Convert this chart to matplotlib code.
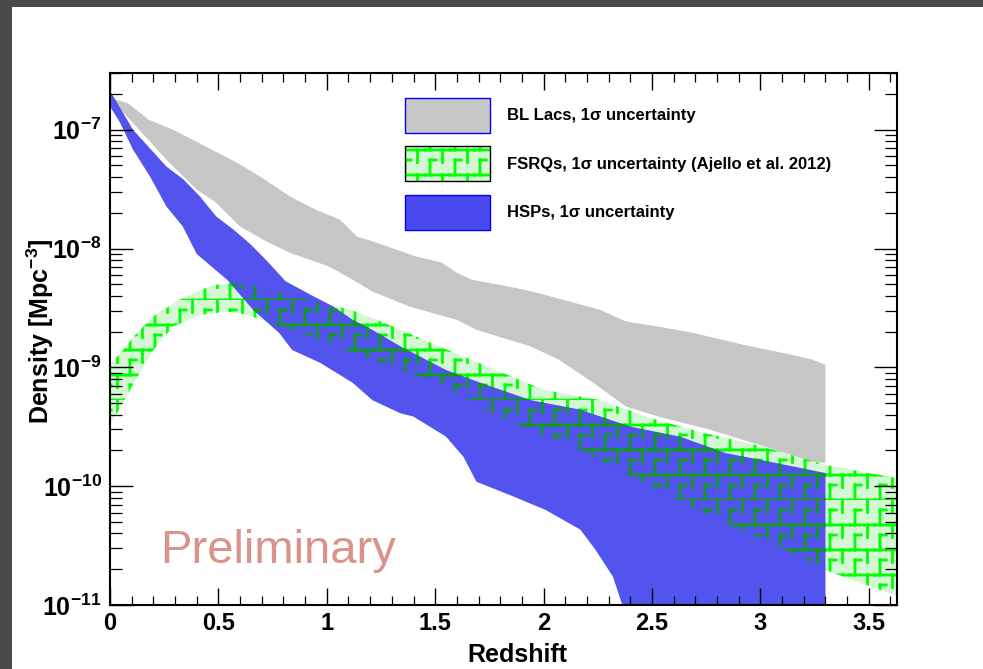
import warnings
import numpy as np
import matplotlib
matplotlib.use("Agg")
import matplotlib.pyplot as plt
import matplotlib.hatch as mhatch
from matplotlib.path import Path
from matplotlib.patches import Patch, Rectangle
from matplotlib.ticker import MultipleLocator, LogLocator, FuncFormatter, NullFormatter
from matplotlib.legend_handler import HandlerTuple

warnings.filterwarnings("ignore", message=".*hatch must consist.*")

# band edges (redshift, density in Mpc^-3)
bll_up_z = [0.02, 0.08, 0.18, 0.29, 0.35, 0.47, 0.60, 0.70, 0.77, 0.83, 0.95, 1.06, 1.14, 1.21,
            1.41, 1.53, 1.60, 1.67, 1.87, 1.97, 2.09, 2.26, 2.38, 2.53, 2.69, 2.92, 3.15, 3.24, 3.30]
bll_up = [1.8e-7, 1.68e-7, 1.21e-7, 1.0e-7, 8.8e-8, 6.8e-8, 5.1e-8, 3.95e-8, 3.25e-8, 2.74e-8,
          2.12e-8, 1.75e-8, 1.26e-8, 1.15e-8, 8.6e-9, 7.6e-9, 6.25e-9, 5.46e-9, 4.67e-9, 4.24e-9,
          3.7e-9, 3.05e-9, 2.43e-9, 2.2e-9, 1.95e-9, 1.55e-9, 1.27e-9, 1.16e-9, 1.05e-9]
bll_lo_z = [0.02, 0.05, 0.26, 0.40, 0.49, 0.60, 0.72, 0.83, 1.01, 1.12, 1.21, 1.38, 1.60, 1.69,
            1.94, 2.07, 2.23, 2.38, 2.53, 2.77, 2.92, 3.07, 3.23, 3.30]
bll_lo = [1.6e-7, 1.47e-7, 5.6e-8, 3.13e-8, 2.43e-8, 1.53e-8, 1.15e-8, 9.2e-9, 7.06e-9, 5.46e-9,
          4.35e-9, 3.25e-9, 2.51e-9, 2.07e-9, 1.5e-9, 1.16e-9, 7.4e-10, 4.68e-10, 3.85e-10,
          2.98e-10, 2.45e-10, 2.02e-10, 1.61e-10, 1.57e-10]

fsrq_up_z = [0.0, 0.05, 0.11, 0.20, 0.32, 0.42, 0.49, 0.57, 0.66, 0.80, 0.95, 1.11, 1.23, 1.34,
             1.50, 1.80, 2.00, 2.26, 2.49, 2.72, 3.00, 3.30, 3.65]
fsrq_up = [1.05e-9, 1.33e-9, 1.82e-9, 2.68e-9, 3.7e-9, 4.5e-9, 4.95e-9, 5.15e-9, 4.9e-9, 4.2e-9,
           3.58e-9, 3.05e-9, 2.51e-9, 2.07e-9, 1.55e-9, 9.15e-10, 6.47e-10, 5.3e-10, 3.76e-10,
           2.86e-10, 2.18e-10, 1.51e-10, 1.15e-10]
fsrq_lo_z = [0.0, 0.05, 0.11, 0.20, 0.29, 0.42, 0.54, 0.63, 0.72, 0.97, 1.24, 1.52, 1.71, 1.94,
             2.17, 2.41, 2.80, 3.03, 3.24, 3.30, 3.65]
fsrq_lo = [3.28e-10, 4.68e-10, 7.4e-10, 1.4e-9, 2.21e-9, 2.77e-9, 2.95e-9, 2.77e-9, 2.43e-9,
           1.71e-9, 1.09e-9, 7.4e-10, 4.56e-10, 2.98e-10, 2.02e-10, 1.2e-10, 5.2e-11, 3.5e-11,
           2.26e-11, 1.97e-11, 1.15e-11]

hsp_up_z = [0.0, 0.106, 0.26, 0.34, 0.415, 0.49, 0.57, 0.645, 0.72, 0.81, 0.94, 1.03, 1.12, 1.21,
            1.34, 1.55, 1.71, 1.94, 2.17, 2.40, 2.63, 2.84, 3.07, 3.30]
hsp_up = [2.13e-7, 1.0e-7, 4.9e-8, 3.8e-8, 2.74e-8, 1.86e-8, 1.44e-8, 1.1e-8, 8.0e-9, 5.3e-9,
          3.95e-9, 3.25e-9, 2.51e-9, 2.07e-9, 1.5e-9, 9.5e-10, 7.4e-10, 5.3e-10, 4.4e-10,
          3.17e-10, 2.61e-10, 1.9e-10, 1.57e-10, 1.29e-10]
hsp_lo_z = [0.0, 0.046, 0.106, 0.184, 0.26, 0.336, 0.40, 0.54, 0.66, 0.78, 0.84, 0.97, 1.12, 1.21,
            1.34, 1.40, 1.55, 1.63, 1.69, 1.86, 2.01, 2.17, 2.24, 2.32, 2.36, 2.40, 3.30]
hsp_lo = [1.57e-7, 1.15e-7, 6.8e-8, 4.05e-8, 2.26e-8, 1.53e-8, 9.0e-9, 5.46e-9, 3.05e-9, 1.95e-9,
          1.4e-9, 1.09e-9, 7.4e-10, 5.3e-10, 4.1e-10, 3.85e-10, 2.61e-10, 1.77e-10, 1.09e-10,
          8.2e-11, 6.3e-11, 4.3e-11, 2.9e-11, 1.73e-11, 1.04e-11, 7e-12, 7e-12]

x_ticks = [0, 0.5, 1, 1.5, 2, 2.5, 3, 3.5]
y_ticks = [1e-11, 1e-10, 1e-9, 1e-8, 1e-7]

labels = ["BL Lacs, 1\u03c3 uncertainty",
          "FSRQs, 1\u03c3 uncertainty (Ajello et al. 2012)",
          "HSPs, 1\u03c3 uncertainty"]

GRAY = "#c6c6c6"
BLUE = "#4a4aee"
LGREEN = "#d4f7d4"
GREEN = "#00ff00"


class RootStairs(mhatch.HatchPatternBase):
    # rough copy of the ROOT staircase fill pattern, 4 cells per hatch tile
    def __init__(self, hatch, density):
        self.n = 4 if "L" in hatch else 0
        self.num_vertices = self.n * self.n * 4 * 2

    def set_vertices_and_codes(self, vertices, codes):
        n = self.n
        s = 1.0 / n
        segs = []
        for i in range(n):
            for j in range(n):
                x0, y0 = i * s, j * s
                segs += [((x0, y0), (x0 + s, y0)),
                         ((x0 + 0.2 * s, y0), (x0 + 0.2 * s, y0 + 0.6 * s)),
                         ((x0 + 0.2 * s, y0 + 0.6 * s), (x0 + 0.45 * s, y0 + 0.6 * s)),
                         ((x0 + 0.7 * s, y0 + s), (x0 + 0.7 * s, y0 + 0.5 * s))]
        vertices[:] = np.array(segs).reshape(-1, 2)
        codes[0::2] = Path.MOVETO
        codes[1::2] = Path.LINETO


mhatch._hatch_types.append(RootStairs)

plt.rcParams["font.family"] = ["Liberation Sans", "DejaVu Sans"]
plt.rcParams["mathtext.fontset"] = "custom"
plt.rcParams["mathtext.rm"] = "Liberation Sans"
plt.rcParams["mathtext.bf"] = "Liberation Sans:bold"
plt.rcParams["hatch.linewidth"] = 2.0


def band(z_up, d_up, z_lo, d_lo):
    x = list(z_up) + list(z_lo)[::-1]
    y = list(d_up) + list(d_lo)[::-1]
    return x, y


fig = plt.figure(figsize=(9.83, 6.69), dpi=100)
fig.patches.append(Rectangle((0, 1 - 7 / 669), 1, 7 / 669, transform=fig.transFigure,
                             facecolor="#4a4a4a", edgecolor="none"))
fig.patches.append(Rectangle((0, 0), 12 / 983, 1, transform=fig.transFigure,
                             facecolor="#4a4a4a", edgecolor="none"))

ax = fig.add_axes([110 / 983, 64 / 669, 787 / 983, 532 / 669])
ax.set_yscale("log")

bx, by = band(bll_up_z, bll_up, bll_lo_z, bll_lo)
ax.fill(bx, by, facecolor=GRAY, edgecolor="none", lw=0, zorder=1.0)

fx, fy = band(fsrq_up_z, fsrq_up, fsrq_lo_z, fsrq_lo)
ax.fill(fx, fy, facecolor=LGREEN, edgecolor=GREEN, lw=0, hatch="L", zorder=1.1)

hx, hy = band(hsp_up_z, hsp_up, hsp_lo_z, hsp_lo)
blue_poly = ax.fill(hx, hy, facecolor=BLUE, edgecolor="none", lw=0, alpha=0.95, zorder=1.2)[0]

# green pattern seen through the HSP band
inner = ax.fill(fx, fy, facecolor="none", edgecolor="#0f9a1f", lw=0, hatch="L", zorder=1.3)[0]
inner.set_clip_path(blue_poly)

ax.set_xlim(0, 3.63)
ax.set_ylim(1e-11, 3e-7)

ax.set_xticks(x_ticks)
ax.xaxis.set_minor_locator(MultipleLocator(0.1))
ax.xaxis.set_major_formatter(FuncFormatter(lambda v, p: "%g" % v))
ax.set_yticks(y_ticks)
ax.yaxis.set_minor_locator(LogLocator(base=10, subs=np.arange(2, 10)))
ax.yaxis.set_minor_formatter(NullFormatter())
ax.yaxis.set_major_formatter(FuncFormatter(lambda v, p: r"$\mathbf{10^{%d}}$" % round(np.log10(v))))

ax.tick_params(axis="both", which="both", direction="in", top=True, right=True, colors="black")
ax.tick_params(axis="x", which="major", length=12, width=1.0, labelsize=17, pad=5)
ax.tick_params(axis="x", which="minor", length=6.5, width=0.9)
ax.tick_params(axis="y", which="major", length=16.5, width=1.0, labelsize=18, pad=6)
ax.tick_params(axis="y", which="minor", length=8.5, width=0.9)
for lab in ax.get_xticklabels():
    lab.set_fontweight("bold")
for sp in ax.spines.values():
    sp.set_linewidth(1.5)

ax.set_xlabel("Redshift", fontsize=18, fontweight="bold")
ax.xaxis.set_label_coords(0.518, -0.072)
ax.set_ylabel(r"Density [Mpc$^{\mathbf{-3}}$]", fontsize=18, fontweight="bold")
ax.yaxis.set_label_coords(-0.068, 0.515)

ax.text(0.0635, 0.079, "Preliminary", transform=ax.transAxes, fontsize=34,
        color="#d9938a", va="baseline", ha="left")

handles = [Patch(facecolor=GRAY, edgecolor="#0000ff", lw=1),
           (Patch(facecolor=LGREEN, edgecolor=GREEN, lw=0, hatch="L"),
            Patch(facecolor="none", edgecolor="black", lw=1)),
           Patch(facecolor=BLUE, edgecolor="#0000ff", lw=1)]
leg = ax.legend(handles, labels, loc="upper left", bbox_to_anchor=(0.3748, 0.953),
                frameon=False, borderpad=0, borderaxespad=0, fontsize=12,
                handlelength=5.1, handleheight=2.85, labelspacing=0.81, handletextpad=1.05,
                handler_map={tuple: HandlerTuple(ndivide=1)})
for t in leg.get_texts():
    t.set_fontweight("bold")

fig.savefig("out.png", dpi=100)
